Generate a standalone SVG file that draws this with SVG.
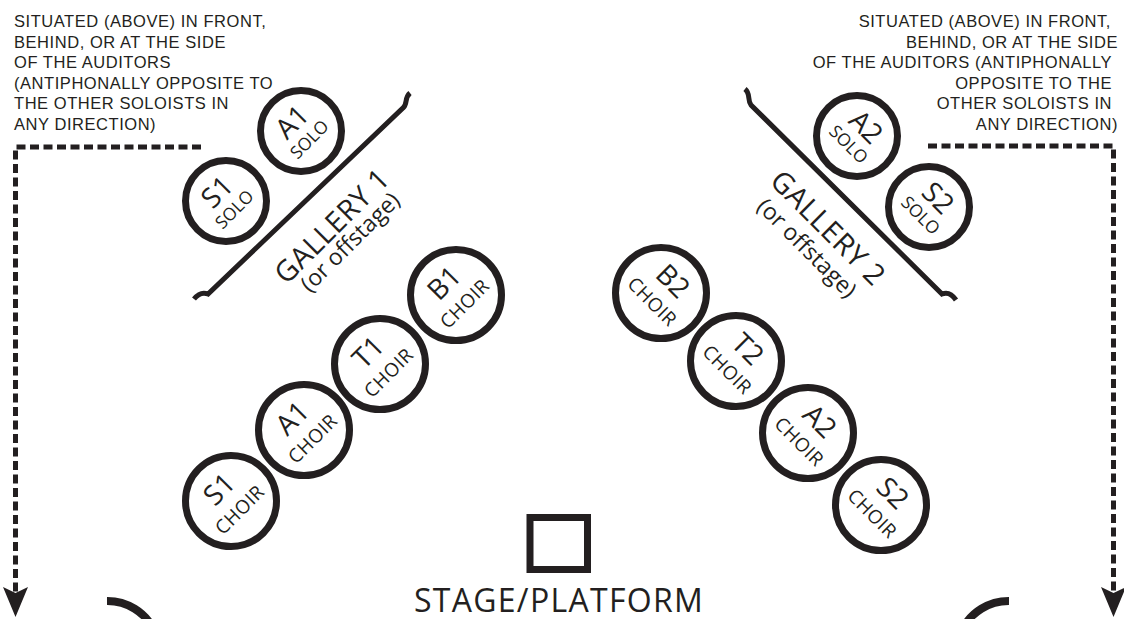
<svg xmlns="http://www.w3.org/2000/svg" width="1124" height="619" viewBox="0 0 1124 619">
<style>
  text { font-family: "Open Sans", "Noto Sans", "Liberation Sans", sans-serif; fill: #231f20; }
  .note text { font-family: "Liberation Sans", Arial, sans-serif; font-size: 16.5px; letter-spacing: 0.55px; }
  .big { font-size: 28px; text-anchor: middle; }
  .small { font-size: 17.5px; text-anchor: middle; }
  .choir { font-size: 19px; letter-spacing: 0.5px; text-anchor: middle; }
  .gal { font-size: 29px; letter-spacing: 0.5px; text-anchor: middle; }
  .gal2 { font-size: 23px; text-anchor: middle; }
  .ring { fill: #fff; stroke: #231f20; stroke-width: 7; }
  .edge { fill: none; stroke: #231f20; stroke-width: 5; }
  .dash { fill: none; stroke: #231f20; stroke-width: 5; stroke-dasharray: 9 4.5; }
  .arc { fill: none; stroke: #231f20; stroke-width: 8; }
</style>
<defs>
  <marker id="head" markerUnits="userSpaceOnUse" markerWidth="30" markerHeight="25" refX="6" refY="12.5" orient="auto" viewBox="0 0 30 25">
    <path d="M0,0 L30,12.5 L0,25 L6,12.5 Z" fill="#231f20"/>
  </marker>
</defs>
<rect width="1124" height="619" fill="#fff"/>

<g id="note-left" class="note">
  <text x="14" y="27">SITUATED (ABOVE) IN FRONT,</text>
  <text x="14" y="47.5">BEHIND, OR AT THE SIDE</text>
  <text x="14" y="68">OF THE AUDITORS</text>
  <text x="14" y="88.5">(ANTIPHONALLY OPPOSITE TO</text>
  <text x="14" y="109">THE OTHER SOLOISTS IN</text>
  <text x="14" y="129.5">ANY DIRECTION)</text>
</g>
<g id="note-right" class="note" text-anchor="end">
  <text x="1111" y="27">SITUATED (ABOVE) IN FRONT,</text>
  <text x="1118" y="47.5">BEHIND, OR AT THE SIDE</text>
  <text x="1112" y="68">OF THE AUDITORS (ANTIPHONALLY</text>
  <text x="1112" y="88.5">OPPOSITE TO THE</text>
  <text x="1112" y="109">OTHER SOLOISTS IN</text>
  <text x="1118" y="129.5">ANY DIRECTION)</text>
</g>

<g id="connectors">
  <path class="dash" d="M201,147 L15.5,147 L15.5,593" marker-end="url(#head)"/>
  <path class="dash" d="M928,146 L1113.5,146 L1113.5,593" marker-end="url(#head)"/>
</g>

<g id="gallery-1">
  <path class="edge" d="M410,93 C404,98 408,104 403,108 L208,294 C203,292 198,294 194,299"/>
  <g transform="translate(332,226) rotate(-45)"><text class="gal" y="10">GALLERY 1</text></g>
  <g transform="translate(350,242) rotate(-45)"><text class="gal2" y="8">(or offstage)</text></g>
</g>
<g id="gallery-2">
  <path class="edge" d="M745,89 C751,94 747,100 751,105 L942,294 C947,292 952,294 956,300"/>
  <g transform="translate(828,228) rotate(45)"><text class="gal" y="10">GALLERY 2</text></g>
  <g transform="translate(807,248) rotate(45)"><text class="gal2" y="8">(or offstage)</text></g>
</g>

<g id="solo-s1" transform="translate(226,201)"><circle class="ring" r="40.5"/><g transform="rotate(-45)"><text class="big" y="-3">S1</text><text class="small" y="18">SOLO</text></g></g>
<g id="solo-a1" transform="translate(301,131)"><circle class="ring" r="40.5"/><g transform="rotate(-45)"><text class="big" y="-3">A1</text><text class="small" y="18">SOLO</text></g></g>
<g id="solo-a2" transform="translate(857,136)"><circle class="ring" r="40.5"/><g transform="rotate(45)"><text class="big" y="-3">A2</text><text class="small" y="18">SOLO</text></g></g>
<g id="solo-s2" transform="translate(929,207)"><circle class="ring" r="40.5"/><g transform="rotate(45)"><text class="big" y="-3">S2</text><text class="small" y="18">SOLO</text></g></g>

<g id="choir-b1" transform="translate(456,295)"><circle class="ring" r="45.5"/><g transform="rotate(-45)"><text class="big" y="-7">B1</text><text class="choir" y="19">CHOIR</text></g></g>
<g id="choir-t1" transform="translate(380,364)"><circle class="ring" r="45.5"/><g transform="rotate(-45)"><text class="big" y="-7">T1</text><text class="choir" y="19">CHOIR</text></g></g>
<g id="choir-a1" transform="translate(304,430)"><circle class="ring" r="45.5"/><g transform="rotate(-45)"><text class="big" y="-7">A1</text><text class="choir" y="19">CHOIR</text></g></g>
<g id="choir-s1" transform="translate(231,501)"><circle class="ring" r="45.5"/><g transform="rotate(-45)"><text class="big" y="-7">S1</text><text class="choir" y="19">CHOIR</text></g></g>

<g id="choir-b2" transform="translate(661,293)"><circle class="ring" r="45.5"/><g transform="rotate(45)"><text class="big" y="-7">B2</text><text class="choir" y="19">CHOIR</text></g></g>
<g id="choir-t2" transform="translate(736,361)"><circle class="ring" r="45.5"/><g transform="rotate(45)"><text class="big" y="-7">T2</text><text class="choir" y="19">CHOIR</text></g></g>
<g id="choir-a2" transform="translate(808,433)"><circle class="ring" r="45.5"/><g transform="rotate(45)"><text class="big" y="-7">A2</text><text class="choir" y="19">CHOIR</text></g></g>
<g id="choir-s2" transform="translate(881,505)"><circle class="ring" r="45.5"/><g transform="rotate(45)"><text class="big" y="-7">S2</text><text class="choir" y="19">CHOIR</text></g></g>

<g id="stage">
  <rect x="530" y="517.5" width="57.5" height="52" fill="none" stroke="#231f20" stroke-width="7"/>
  <text x="559" y="612" style="font-size:32px; letter-spacing:1.3px" text-anchor="middle">STAGE/PLATFORM</text>
</g>

<g id="seats">
  <path class="arc" d="M107,601 A52,52 0 0 1 154,630"/>
  <path class="arc" d="M1009,601 A52,52 0 0 0 962,630"/>
</g>
</svg>
